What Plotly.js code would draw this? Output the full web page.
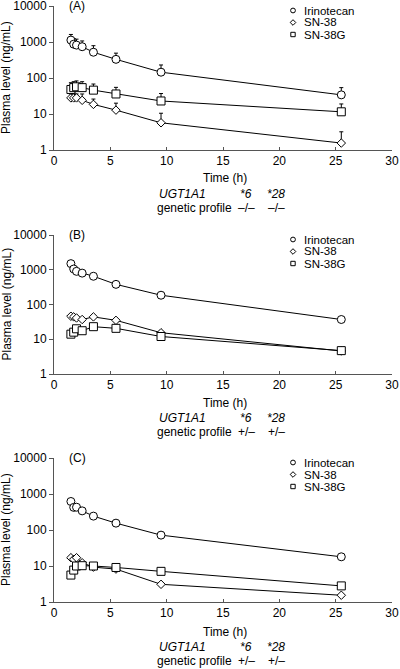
<!DOCTYPE html>
<html>
<head>
<meta charset="utf-8">
<script src="https://cdn.plot.ly/plotly-3.0.1.min.js"></script>
<style>html,body{margin:0;padding:0;background:#fff;}#chart{width:400px;height:669px;}</style>
</head>
<body>
<div id="chart"></div>
<script>
// ---- data ----
var timeH = [1.5, 1.75, 2, 2.5, 3.5, 5.5, 9.5, 25.5];
var seriesNames = ['Irinotecan', 'SN-38', 'SN-38G'];
var panelLabels = ['(A)', '(B)', '(C)'];
var profile6 = ['\u2013/\u2013', '+/\u2013', '+/\u2013'];
var profile28 = ['\u2013/\u2013', '+/\u2013', '+/\u2013'];

// Panel A (mean + upper SD)
var irinoA = [1130, 870, 820, 740, 520, 330, 145, 34];
var irinoAErrTop = [1620, 1250, 1200, 1070, 790, 490, 230, 54];
var sn38A = [28, 28, 28, 24, 18.5, 12.8, 5.7, 1.56];
var sn38AErrTop = [36, 38, 36, 36, 26, 20, 10.5, 3.2];
var sn38gA = [48, 54, 57, 54, 46, 36, 23, 11.5];
var sn38gAErrTop = [74, 79, 83, 79, 68, 55, 37, 19];

// Panel B
var irinoB = [1500, 1050, 900, 800, 650, 380, 185, 37];
var sn38B = [46, 44, 41, 37, 44, 35, 15.4, 4.6];
var sn38gB = [14, 16, 20, 17.6, 23, 20.6, 12, 4.7];

// Panel C
var irinoC = [620, 425, 430, 340, 243, 155, 72, 18];
var sn38C = [17, 15.4, 17, 12.3, 9.3, 8.2, 3.1, 1.54];
var sn38gC = [5.6, 7.7, 10, 10.2, 10, 9.1, 7.1, 2.8];

var yTickVals = [1, 10, 100, 1000, 10000];
var yTickText = ['1', '10', '100', '1000', '10000'];
var xTickVals = [0, 5, 10, 15, 20, 25, 30];

// ---- geometry helpers ----
var W = 400, H = 669;
function px(x) { return x / W; }
function py(y) { return 1 - y / H; }
var FONT = 'Liberation Sans, Arial, Helvetica, sans-serif';
var symbols = ['circle', 'diamond', 'square'];
var msize = [8, 6.5, 8];

var panels = [
  { ser: [irinoA, sn38A, sn38gA], err: [irinoAErrTop, sn38AErrTop, sn38gAErrTop], top: 6, bot: 150, time: 178, ugt: 194, gen: 208 },
  { ser: [irinoB, sn38B, sn38gB], err: null, top: 235, bot: 374, time: 403, ugt: 418, gen: 432 },
  { ser: [irinoC, sn38C, sn38gC], err: null, top: 458, bot: 602, time: 632, ugt: 647, gen: 661 }
];

var traces = [];
var annotations = [];
var shapes = [];
var layout = {
  width: W, height: H,
  margin: { l: 0, r: 0, t: 0, b: 0 },
  paper_bgcolor: '#fff', plot_bgcolor: '#fff',
  showlegend: false,
  font: { family: FONT, size: 12, color: '#000' }
};

panels.forEach(function (p, i) {
  var n = i === 0 ? '' : String(i + 1);
  var xa = 'x' + n, ya = 'y' + n;
  p.ser.forEach(function (vals, k) {
    var tr = {
      x: timeH, y: vals, xaxis: xa, yaxis: ya,
      type: 'scatter', mode: 'lines+markers', name: seriesNames[k],
      line: { color: '#000', width: 1 },
      marker: { symbol: symbols[k], size: msize[k], color: '#fff', line: { color: '#000', width: 1 } },
      cliponaxis: false
    };
    if (p.err) {
      var up = p.err[k].map(function (t, j) { return t - vals[j]; });
      tr.error_y = { type: 'data', symmetric: false, array: up, arrayminus: vals.map(function () { return 0; }), color: '#000', thickness: 1, width: 2 };
    }
    traces.push(tr);
  });
  layout['xaxis' + n] = {
    domain: [px(54), px(392)], anchor: ya, range: [0, 30], tickvals: xTickVals,
    ticks: 'inside', ticklen: 3, tickcolor: '#555', showline: true, linecolor: '#555', linewidth: 1,
    showgrid: false, zeroline: false, tickfont: { size: 12, family: FONT }, ticklabeloverflow: 'allow'
  };
  layout['yaxis' + n] = {
    domain: [py(p.bot), py(p.top)], anchor: xa, type: 'log', range: [0, 4],
    tickvals: yTickVals, ticktext: yTickText,
    ticks: 'outside', ticklen: 4, tickcolor: '#555', showline: true, linecolor: '#555', linewidth: 1,
    showgrid: false, zeroline: false, tickfont: { size: 12, family: FONT }, ticklabeloverflow: 'allow'
  };
  var mid = (p.top + p.bot) / 2;
  annotations.push({ xref: 'paper', yref: 'paper', x: px(6), y: py(mid), text: 'Plasma level (ng/mL)', textangle: -90, showarrow: false, xanchor: 'center', yanchor: 'middle', font: { size: 12 } });
  annotations.push({ xref: 'paper', yref: 'paper', x: px(67), y: py(p.top), text: panelLabels[i], showarrow: false, xanchor: 'left', yanchor: 'middle', font: { size: 12 } });
  annotations.push({ xref: 'paper', yref: 'paper', x: px(225), y: py(p.time), text: 'Time (h)', showarrow: false, xanchor: 'center', yanchor: 'middle', font: { size: 12 } });
  annotations.push({ xref: 'paper', yref: 'paper', x: px(157), y: py(p.ugt), text: '<i>UGT1A1</i>', showarrow: false, xanchor: 'left', yanchor: 'middle', font: { size: 12 } });
  annotations.push({ xref: 'paper', yref: 'paper', x: px(246), y: py(p.ugt), text: '<i>*6</i>', showarrow: false, xanchor: 'center', yanchor: 'middle', font: { size: 12 } });
  annotations.push({ xref: 'paper', yref: 'paper', x: px(276), y: py(p.ugt), text: '<i>*28</i>', showarrow: false, xanchor: 'center', yanchor: 'middle', font: { size: 12 } });
  annotations.push({ xref: 'paper', yref: 'paper', x: px(155), y: py(p.gen), text: 'genetic profile', showarrow: false, xanchor: 'left', yanchor: 'middle', font: { size: 12 } });
  annotations.push({ xref: 'paper', yref: 'paper', x: px(246), y: py(p.gen), text: profile6[i], showarrow: false, xanchor: 'center', yanchor: 'middle', font: { size: 12 } });
  annotations.push({ xref: 'paper', yref: 'paper', x: px(276), y: py(p.gen), text: profile28[i], showarrow: false, xanchor: 'center', yanchor: 'middle', font: { size: 12 } });
  // legend (key symbols + text)
  for (var k = 0; k < 3; k++) {
    var ly = p.top + 4.5 + 12 * k;
    var cx = 293, r = 2.4;
    var line = { color: '#000', width: 1 };
    if (k === 0) shapes.push({ type: 'circle', xref: 'paper', yref: 'paper', x0: px(cx - r), x1: px(cx + r), y0: py(ly - r), y1: py(ly + r), line: line });
    if (k === 1) shapes.push({ type: 'path', xref: 'paper', yref: 'paper', path: 'M' + px(cx) + ',' + py(ly - 2.8) + ' L' + px(cx + 2.8) + ',' + py(ly) + ' L' + px(cx) + ',' + py(ly + 2.8) + ' L' + px(cx - 2.8) + ',' + py(ly) + ' Z', line: line });
    if (k === 2) shapes.push({ type: 'rect', xref: 'paper', yref: 'paper', x0: px(cx - 2.2), x1: px(cx + 2.2), y0: py(ly - 2.2), y1: py(ly + 2.2), line: line });
    annotations.push({ xref: 'paper', yref: 'paper', x: px(303), y: py(ly), text: seriesNames[k], showarrow: false, xanchor: 'left', yanchor: 'middle', font: { size: 11.5 }, borderpad: 0 });
  }
});

layout.annotations = annotations;
layout.shapes = shapes;
Plotly.newPlot('chart', traces, layout, { displayModeBar: false, staticPlot: true });
</script>
</body>
</html>
